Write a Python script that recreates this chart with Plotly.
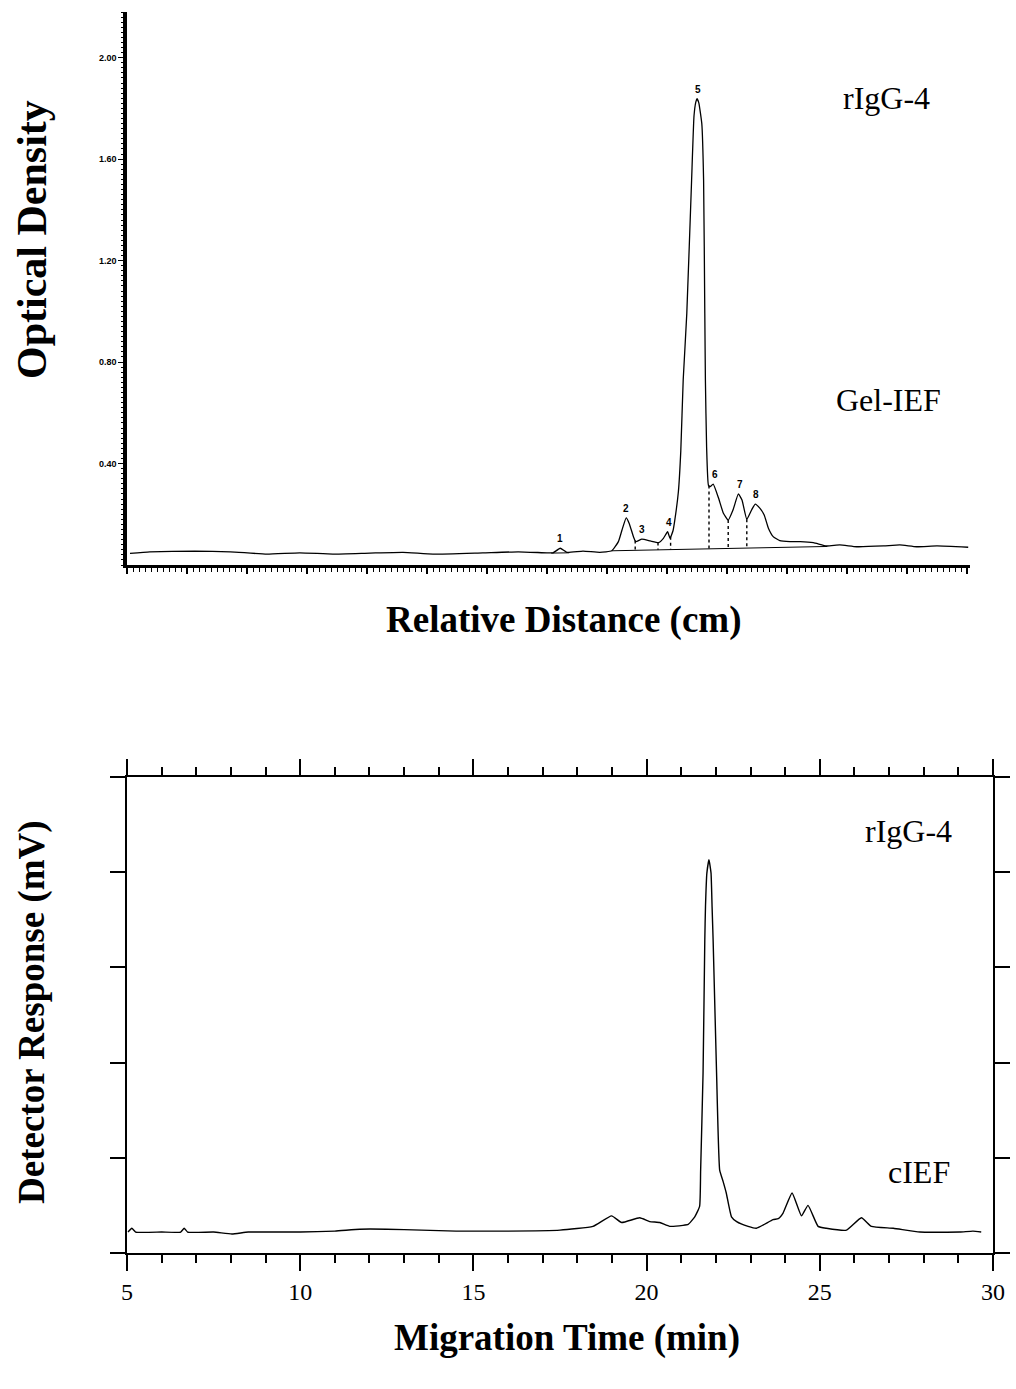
import numpy as np
import plotly.graph_objects as go

# ---------------- Top panel: Gel-IEF densitometry ----------------
gel_x = [0.05, 0.38, 1.13, 1.72, 2.33, 2.88, 3.43, 4.05, 4.60, 5.10, 5.93, 6.52,
         7.00, 7.10, 7.22, 7.33, 7.60, 7.88, 8.08, 8.19, 8.25, 8.32, 8.37, 8.44,
         8.48, 8.58, 8.72, 8.86, 8.94, 9.01, 9.05, 9.10, 9.13, 9.19, 9.23, 9.27,
         9.33, 9.41, 9.45, 9.48, 9.50, 9.53, 9.58, 9.61, 9.63, 9.64, 9.66, 9.69, 9.72, 9.77,
         9.86, 9.94, 10.02, 10.10, 10.19, 10.25, 10.33, 10.41, 10.47, 10.55, 10.62,
         10.69, 10.77, 10.88, 11.05, 11.22, 11.44, 11.66, 11.88, 12.16, 12.61,
         12.88, 13.16, 13.50, 14.02]
gel_od = [0.046, 0.052, 0.055, 0.052, 0.043, 0.048, 0.043, 0.047, 0.050, 0.043, 0.048, 0.052,
          0.048, 0.048, 0.066, 0.050, 0.055, 0.050, 0.056, 0.092, 0.138, 0.186, 0.164, 0.112,
          0.092, 0.102, 0.095, 0.088, 0.105, 0.131, 0.105, 0.135, 0.177, 0.290, 0.450, 0.729,
          0.992, 1.517, 1.770, 1.825, 1.838, 1.822, 1.740, 1.517, 0.992, 0.729, 0.466, 0.315, 0.309, 0.319,
          0.263, 0.204, 0.177, 0.217, 0.280, 0.256, 0.180, 0.217, 0.240, 0.223, 0.197,
          0.145, 0.112, 0.096, 0.092, 0.092, 0.088, 0.075, 0.079, 0.072, 0.075,
          0.079, 0.072, 0.075, 0.070]

peak_labels = ["1", "2", "3", "4", "5", "6", "7", "8"]
peak_x = [7.22, 8.32, 8.58, 9.03, 9.52, 9.80, 10.21, 10.49]
peak_y = [0.066, 0.186, 0.102, 0.131, 1.838, 0.319, 0.280, 0.240]

drop_x = [8.47, 8.85, 9.06, 9.70, 10.02, 10.33]
integ_base_x = [8.08, 11.67]
integ_base_y = [0.056, 0.073]
p1_base_x = [7.07, 7.37]
p1_base_y = [0.047, 0.048]

gel_yticks = [0.40, 0.80, 1.20, 1.60, 2.00]
gel_yticklabels = ["0.40", "0.80", "1.20", "1.60", "2.00"]

# ---------------- Bottom panel: cIEF electropherogram ----------------
cief_t = [5.03, 5.14, 5.25, 6.00, 6.55, 6.65, 6.75, 7.50, 8.03, 8.50, 10.0, 11.0,
          11.72, 12.5, 13.5, 14.5, 16.0, 17.5, 18.45, 18.99, 19.28, 19.80, 20.09,
          20.38, 20.67, 21.05, 21.20, 21.39, 21.53, 21.56, 21.63, 21.68, 21.70, 21.74,
          21.80, 21.86, 21.89, 21.92, 22.02, 22.11, 22.21, 22.30, 22.45, 22.60, 22.93,
          23.17, 23.65, 23.80, 23.94, 24.20, 24.47, 24.66, 24.95, 25.19, 25.77, 26.20,
          26.49, 27.12, 27.89, 29.04, 29.42, 29.66]
cief_mv = [0.22, 0.26, 0.22, 0.22, 0.22, 0.26, 0.22, 0.22, 0.20, 0.22, 0.22, 0.23,
           0.25, 0.25, 0.24, 0.23, 0.23, 0.24, 0.28, 0.39, 0.32, 0.37, 0.33,
           0.32, 0.28, 0.29, 0.30, 0.38, 0.49, 0.87, 1.89, 3.29, 3.64, 3.99,
           4.13, 3.99, 3.64, 3.29, 1.89, 0.87, 0.75, 0.63, 0.38, 0.33, 0.28,
           0.26, 0.35, 0.36, 0.42, 0.63, 0.39, 0.50, 0.28, 0.26, 0.24, 0.37,
           0.28, 0.26, 0.22, 0.22, 0.23, 0.22]

W, H = 1016, 1389
def px(x):
    return x / W
def py(y):
    return 1 - y / H

serif = "Liberation Serif"
fig = go.Figure()

fig.add_trace(go.Scatter(x=gel_x, y=gel_od, mode="lines",
                         line=dict(color="black", width=1.3, shape="spline", smoothing=0.4),
                         xaxis="x", yaxis="y", hoverinfo="skip"))
fig.add_trace(go.Scatter(x=integ_base_x, y=integ_base_y, mode="lines",
                         line=dict(color="black", width=1),
                         xaxis="x", yaxis="y", hoverinfo="skip"))
fig.add_trace(go.Scatter(x=p1_base_x, y=p1_base_y, mode="lines",
                         line=dict(color="black", width=1),
                         xaxis="x", yaxis="y", hoverinfo="skip"))
for dx in drop_x:
    top = float(np.interp(dx, gel_x, gel_od))
    bot = float(np.interp(dx, integ_base_x, integ_base_y))
    fig.add_trace(go.Scatter(x=[dx, dx], y=[top, bot], mode="lines",
                             line=dict(color="black", width=1.4, dash="dot"),
                             xaxis="x", yaxis="y", hoverinfo="skip"))

fig.add_trace(go.Scatter(x=cief_t, y=cief_mv, mode="lines",
                         line=dict(color="black", width=1.4, shape="spline", smoothing=0.4),
                         xaxis="x2", yaxis="y2", hoverinfo="skip"))

annotations = []
for lab, x, y in zip(peak_labels, peak_x, peak_y):
    annotations.append(dict(x=x, y=y, xref="x", yref="y", text=lab, showarrow=False,
                            yanchor="bottom", yshift=2,
                            font=dict(family="Liberation Sans", size=10, color="black",
                                      weight="bold")))

def txt(t, x, y, size, bold=False, angle=0):
    annotations.append(dict(x=px(x), y=py(y), xref="paper", yref="paper", text=t,
                            showarrow=False, textangle=angle,
                            xanchor="center", yanchor="middle",
                            font=dict(family=serif, size=size, color="black",
                                      weight="bold" if bold else "normal")))

txt("Optical Density", 32, 240, 42, bold=True, angle=-90)
txt("Relative Distance (cm)", 563, 620, 37, bold=True)
txt("rIgG-4", 886, 98, 32)
txt("Gel-IEF", 888, 400, 32)
txt("Detector Response (mV)", 32, 1012, 37, bold=True, angle=-90)
txt("Migration Time (min)", 567, 1338, 37, bold=True)
txt("rIgG-4", 908, 831, 32)
txt("cIEF", 919, 1172, 32)

fig.update_layout(
    template="none",
    width=W, height=H,
    margin=dict(l=0, r=0, t=0, b=0, pad=0, autoexpand=False),
    paper_bgcolor="white", plot_bgcolor="white",
    showlegend=False,
    annotations=annotations,
    xaxis=dict(domain=[px(127), px(970)], range=[0, 14.05], anchor="y", automargin=False,
               showline=True, linewidth=3, linecolor="black",
               ticks="outside", tick0=0, dtick=1, ticklen=6, tickwidth=1.5,
               tickcolor="black", showticklabels=False,
               minor=dict(ticks="outside", tick0=0, dtick=0.1, ticklen=3.5,
                          tickwidth=1.2, tickcolor="black"),
               showgrid=False, zeroline=False),
    yaxis=dict(domain=[py(565), py(12)], range=[0, 2.18], anchor="x", automargin=False,
               showline=True, linewidth=3.5, linecolor="black",
               ticks="outside", tickmode="array", tickvals=gel_yticks,
               ticktext=gel_yticklabels, ticklen=5, tickwidth=1.3, tickcolor="black",
               tickfont=dict(family="Liberation Sans", size=9, color="black",
                             weight="bold"),
               minor=dict(ticks="outside", tick0=0, dtick=0.02, ticklen=2,
                          tickwidth=1, tickcolor="black"),
               showgrid=False, zeroline=False),
    xaxis2=dict(domain=[px(127), px(993)], range=[5, 30], anchor="y2", automargin=False,
                showline=True, linewidth=1.5, linecolor="black", mirror="ticks",
                ticks="outside", tick0=5, dtick=5, ticklen=16, tickwidth=1.5,
                tickcolor="black",
                tickfont=dict(family=serif, size=24, color="black"),
                minor=dict(ticks="outside", tick0=5, dtick=1, ticklen=8,
                           tickwidth=1.5, tickcolor="black"),
                showgrid=False, zeroline=False),
    yaxis2=dict(domain=[py(1253), py(777)], range=[0, 5], anchor="x2", automargin=False,
                showline=True, linewidth=1.5, linecolor="black", mirror="ticks",
                ticks="outside", tick0=0, dtick=1, ticklen=15, tickwidth=1.5,
                tickcolor="black", showticklabels=False,
                showgrid=False, zeroline=False),
)

fig.write_html("out.html")
